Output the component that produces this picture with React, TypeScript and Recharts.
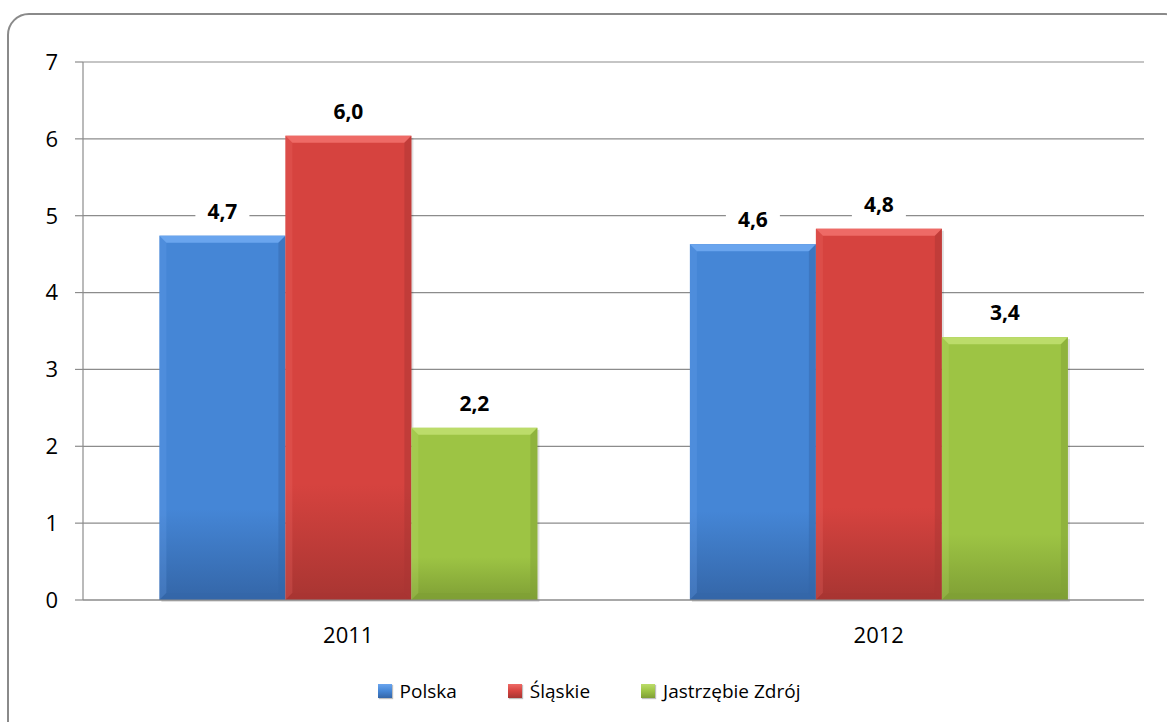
import { BarChart, Bar, XAxis, YAxis, CartesianGrid, Legend, LabelList } from 'recharts'

const years = ['2011', '2012']
const polska = [4.74, 4.63]
const slaskie = [6.04, 4.83]
const jastrzebie = [2.24, 3.42]
const yTicks = [0, 1, 2, 3, 4, 5, 6, 7]

const data = years.map((year, i) => ({
  year,
  polska: polska[i],
  slaskie: slaskie[i],
  jastrzebie: jastrzebie[i],
}))

const series = [
  { key: 'polska', name: 'Polska', face: '#4586d6', top: '#6aa5ee', dark: '#3466a8' },
  { key: 'slaskie', name: 'Śląskie', face: '#d6433f', top: '#ee6a66', dark: '#a83532' },
  { key: 'jastrzebie', name: 'Jastrzębie Zdrój', face: '#9dc444', top: '#bcdc6a', dark: '#7f9f35' },
]

const font = '"Open Sans", sans-serif'

const fmt = (v: number) => v.toFixed(1).replace('.', ',')

function BevelBar(props: any) {
  const { x, y, width, height, idx } = props
  const s = series[idx]
  if (!height || height <= 0) return null
  const b = 7
  return (
    <g>
      <rect x={x + 2} y={y + 2} width={width} height={height} fill="#000" opacity={0.12} />
      <rect x={x} y={y} width={width} height={height} fill={`url(#grad-${s.key})`} />
      <polygon points={`${x},${y} ${x + width},${y} ${x + width - b},${y + b} ${x + b},${y + b}`} fill={s.top} />
      <polygon points={`${x},${y} ${x + b},${y + b} ${x + b},${y + height - b} ${x},${y + height}`} fill={s.top} opacity={0.25} />
      <polygon points={`${x + width},${y} ${x + width - b},${y + b} ${x + width - b},${y + height - b} ${x + width},${y + height}`} fill={s.dark} opacity={0.45} />
      <polygon points={`${x},${y + height} ${x + b},${y + height - b} ${x + width - b},${y + height - b} ${x + width},${y + height}`} fill={s.dark} opacity={0.7} />
    </g>
  )
}

function ValueLabel(props: any) {
  const { x, y, width, value } = props
  const cx = x + width / 2
  const text = fmt(value)
  return (
    <g>
      <rect x={cx - 27} y={y - 36} width={54} height={26} fill="#fff" />
      <text x={cx} y={y - 17} textAnchor="middle" fontFamily={font} fontSize={21} fontWeight="bold" fill="#000">
        {text}
      </text>
    </g>
  )
}

function LegendContent() {
  return (
    <div
      style={{
        display: 'flex',
        justifyContent: 'center',
        gap: 51,
        fontFamily: font,
        fontSize: 19,
        color: '#000',
        paddingLeft: 34,
        paddingTop: 32,
      }}
    >
      {series.map((s) => (
        <div key={s.key} style={{ display: 'flex', alignItems: 'center', gap: 8 }}>
          <span
            style={{
              display: 'inline-block',
              width: 14,
              height: 14,
              background: `linear-gradient(${s.top}, ${s.face} 50%, ${s.dark})`,
              boxShadow: '1px 1px 1px rgba(0,0,0,0.25)',
            }}
          />
          <span>{s.name}</span>
        </div>
      ))}
    </div>
  )
}

const tickStyle = { fill: '#000', fontFamily: font, fontSize: 22 }

export default function App() {
  return (
    <div style={{ position: 'absolute', left: 0, top: 0, width: 1167, height: 722, background: '#fff' }}>
      <div
        style={{
          position: 'absolute',
          left: 7,
          top: 13,
          width: 1180,
          height: 740,
          border: '2px solid #8a8a8a',
          borderRadius: 22,
          boxSizing: 'border-box',
        }}
      />
      <div style={{ position: 'absolute', left: 0, top: 0 }}>
        <BarChart
          width={1167}
          height={722}
          data={data}
          margin={{ top: 62, right: 23, left: 0, bottom: 0 }}
          barCategoryGap="14.4%"
          barGap={0}
        >
          <defs>
            {series.map((s) => (
              <linearGradient key={s.key} id={`grad-${s.key}`} x1="0" y1="0" x2="0" y2="1">
                <stop offset="0%" stopColor={s.face} />
                <stop offset="75%" stopColor={s.face} />
                <stop offset="100%" stopColor={s.dark} />
              </linearGradient>
            ))}
          </defs>
          <CartesianGrid vertical={false} stroke="#8c8c8c" strokeWidth={1.2} />
          <XAxis
            xAxisId="sep"
            type="number"
            domain={[0, 2]}
            ticks={[0, 1, 2]}
            height={0}
            tick={false}
            axisLine={false}
            tickSize={8}
            tickLine={{ stroke: '#8c8c8c', strokeWidth: 1.2 }}
          />
          <XAxis
            xAxisId="cat"
            dataKey="year"
            height={46}
            axisLine={{ stroke: '#8c8c8c', strokeWidth: 1.2 }}
            tickLine={false}
            tickSize={8}
            tickMargin={19}
            tick={tickStyle}
            style={{ fontSize: 22 }}
          />
          <YAxis
            width={83}
            domain={[0, 7]}
            ticks={yTicks}
            interval={0}
            axisLine={{ stroke: '#8c8c8c', strokeWidth: 1.2 }}
            tickLine={{ stroke: '#8c8c8c', strokeWidth: 1.2 }}
            tickSize={8}
            tickMargin={17}
            tick={tickStyle}
            style={{ fontSize: 22 }}
          />
          <Legend verticalAlign="bottom" height={76} content={<LegendContent />} />
          {series.map((s, i) => (
            <Bar
              key={s.key}
              xAxisId="cat"
              dataKey={s.key}
              name={s.name}
              fill={s.face}
              isAnimationActive={false}
              shape={(p: any) => <BevelBar {...p} idx={i} />}
            >
              <LabelList dataKey={s.key} content={<ValueLabel />} />
            </Bar>
          ))}
        </BarChart>
      </div>
    </div>
  )
}
